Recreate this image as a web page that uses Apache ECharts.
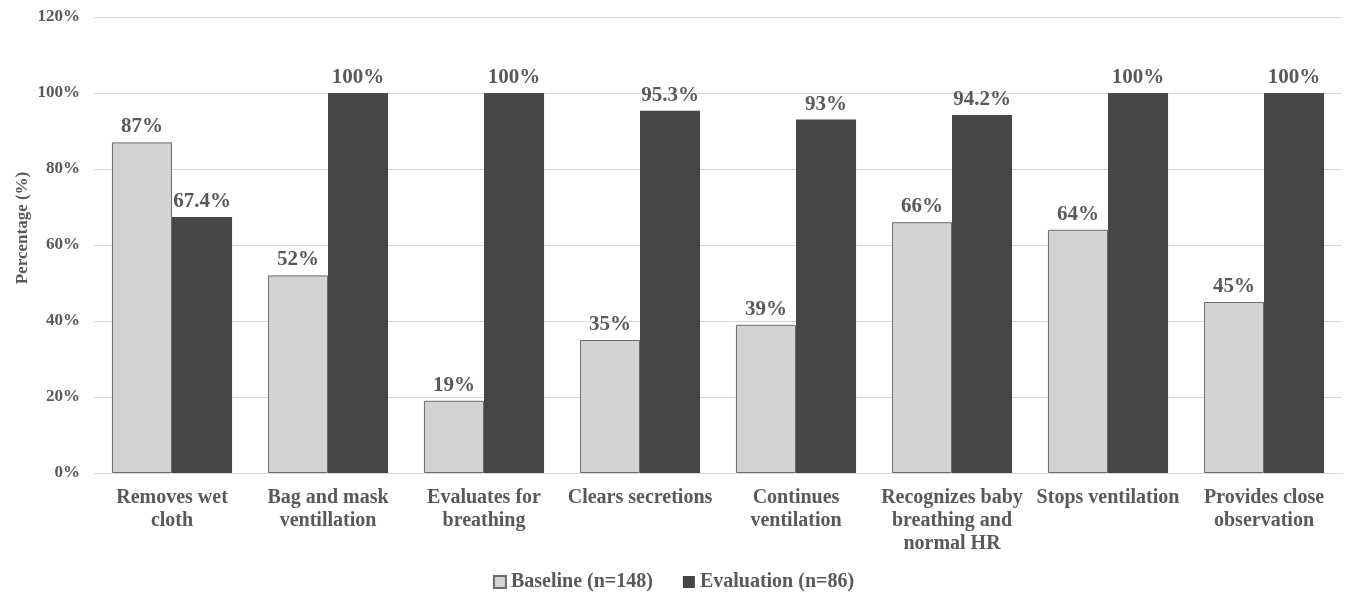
<!DOCTYPE html>
<html>
<head>
<meta charset="utf-8">
<script src="https://cdn.jsdelivr.net/npm/echarts@6/dist/echarts.min.js"></script>
<style>
  html, body { margin: 0; padding: 0; background: #fff; }
  #chart { width: 1347px; height: 594px; }
</style>
</head>
<body>
<div id="chart"></div>
<script>
// Neonatal resuscitation skills: share of providers performing each step
const categories = [
  'Removes wet\ncloth',
  'Bag and mask\nventillation',
  'Evaluates for\nbreathing',
  'Clears secretions',
  'Continues\nventilation',
  'Recognizes baby\nbreathing and\nnormal HR',
  'Stops ventilation',
  'Provides close\nobservation'
];
const baselineValues = [87, 52, 19, 35, 39, 66, 64, 45];
const evaluationValues = [67.4, 100, 100, 95.3, 93, 94.2, 100, 100];
const baselineName = 'Baseline (n=148)';
const evaluationName = 'Evaluation (n=86)';
const yAxisTitle = 'Percentage (%)';

const textColor = '#595959';
const fontFamily = '"Liberation Serif", "Times New Roman", serif';

const chart = echarts.init(document.getElementById('chart'));

const labelStyle = {
  show: true,
  position: 'top',
  distance: 5,
  color: textColor,
  fontFamily,
  fontWeight: 'bold',
  fontSize: 21,
  formatter: p => p.value + '%'
};

chart.setOption({
  animation: false,
  grid: { left: 94, right: 5, top: 17, bottom: 121 },
  graphic: [{
    type: 'text',
    x: 23,
    y: 228,
    rotation: Math.PI / 2,
    style: {
      text: yAxisTitle,
      fill: textColor,
      font: 'bold 17px ' + fontFamily,
      textAlign: 'center',
      textVerticalAlign: 'middle'
    }
  }],
  legend: {
    bottom: -3,
    left: 'center',
    icon: 'rect',
    itemWidth: 12,
    itemHeight: 12,
    itemGap: 30,
    textStyle: { color: textColor, fontFamily, fontWeight: 'bold', fontSize: 20 },
    data: [baselineName, evaluationName]
  },
  xAxis: {
    type: 'category',
    data: categories,
    axisLine: { show: true, lineStyle: { color: '#d9d9d9' } },
    axisTick: { show: false },
    axisLabel: {
      color: textColor,
      fontFamily,
      fontWeight: 'bold',
      fontSize: 20,
      lineHeight: 23,
      margin: 13,
      interval: 0
    }
  },
  yAxis: {
    type: 'value',
    min: 0,
    max: 120,
    interval: 20,
    axisLine: { show: false },
    axisTick: { show: false },
    splitLine: { lineStyle: { color: '#d9d9d9', width: 1 } },
    axisLabel: {
      color: textColor,
      fontFamily,
      fontWeight: 'bold',
      fontSize: 17,
      margin: 14,
      formatter: '{value}%'
    }
  },
  series: [
    {
      name: baselineName,
      type: 'bar',
      data: baselineValues,
      barGap: '0%',
      barCategoryGap: '23%',
      itemStyle: { color: '#d3d3d3', borderColor: '#6b6b6b', borderWidth: 1 },
      label: labelStyle
    },
    {
      name: evaluationName,
      type: 'bar',
      data: evaluationValues,
      itemStyle: { color: '#464646' },
      label: labelStyle
    }
  ]
});
</script>
</body>
</html>
